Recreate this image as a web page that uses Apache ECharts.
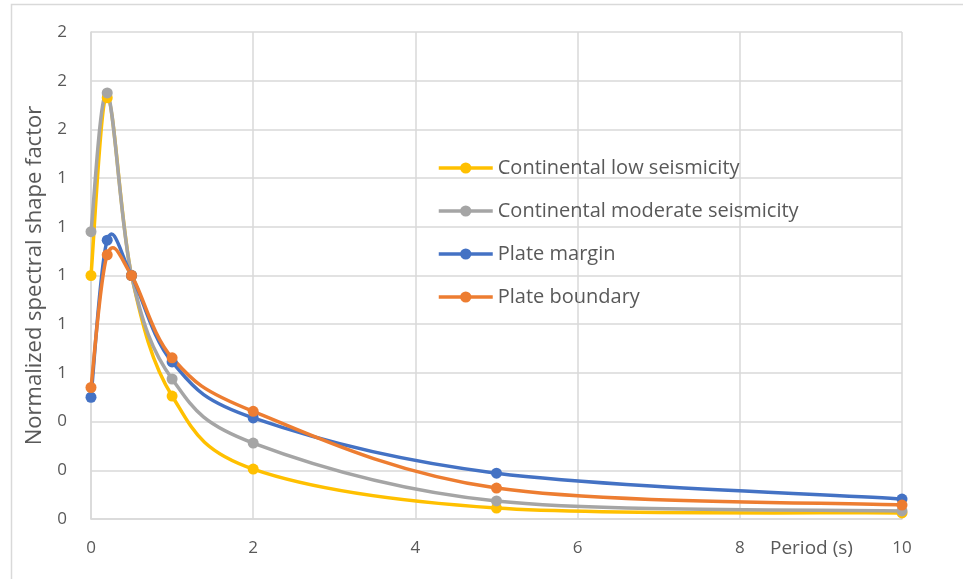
<!DOCTYPE html>
<html>
<head>
<meta charset="utf-8">
<script src="https://cdn.jsdelivr.net/npm/echarts@6/dist/echarts.min.js"></script>
<style>
html,body{margin:0;padding:0;background:#fff;}
#chart{width:963px;height:579px;}
</style>
</head>
<body>
<div id="chart"></div>
<script>
var periods = [0, 0.2, 0.5, 1, 2, 5, 10];
var seriesNames = ['Continental low seismicity', 'Continental moderate seismicity', 'Plate margin', 'Plate boundary'];
var continentalLow = [1.00, 1.73, 1.00, 0.505, 0.205, 0.045, 0.025];
var continentalModerate = [1.18, 1.75, 1.00, 0.575, 0.312, 0.074, 0.033];
var plateMargin = [0.50, 1.145, 1.00, 0.645, 0.415, 0.188, 0.082];
var plateBoundary = [0.54, 1.085, 1.00, 0.662, 0.442, 0.127, 0.057];
var xAxisTitle = 'Period (s)';
var yAxisTitle = 'Normalized spectral shape factor';

var colors = ['#FFC000', '#A5A5A5', '#4472C4', '#ED7D31'];
var allValues = [continentalLow, continentalModerate, plateMargin, plateBoundary];
var FONT = 'Open Sans';
var TXT = '#595959';

function pairs(vals) {
  return periods.map(function (p, i) { return [p, vals[i]]; });
}

// Smooth curve through the data points (Bezier, Excel-style), positioned with the chart's own scales
function smoothRenderer(vals, color) {
  return function (params, api) {
    if (params.dataIndex !== 0) return null;
    var pts = vals.map(function (v, j) { return api.coord([periods[j], v]); });
    var n = pts.length;
    var d = 'M' + pts[0][0] + ' ' + pts[0][1];
    for (var i = 0; i < n - 1; i++) {
      var p0 = pts[i - 1] || pts[i];
      var p1 = pts[i];
      var p2 = pts[i + 1];
      var p3 = pts[i + 2] || pts[i + 1];
      var c1x = p1[0] + (p2[0] - p0[0]) / 6, c1y = p1[1] + (p2[1] - p0[1]) / 6;
      var c2x = p2[0] - (p3[0] - p1[0]) / 6, c2y = p2[1] - (p3[1] - p1[1]) / 6;
      d += ' C' + c1x + ' ' + c1y + ' ' + c2x + ' ' + c2y + ' ' + p2[0] + ' ' + p2[1];
    }
    return {
      type: 'path',
      shape: { pathData: d },
      style: { stroke: color, fill: 'none', lineWidth: 3.5, lineJoin: 'round', lineCap: 'round' }
    };
  };
}

var series = [];
allValues.forEach(function (vals, i) {
  series.push({
    type: 'custom',
    data: pairs(vals),
    encode: { x: 0, y: 1 },
    silent: true,
    clip: false,
    renderItem: smoothRenderer(vals, colors[i])
  });
  series.push({
    name: seriesNames[i],
    type: 'line',
    data: pairs(vals),
    symbol: 'circle',
    symbolSize: 11,
    color: colors[i],
    lineStyle: { width: 3.5, color: colors[i], opacity: 0 },
    itemStyle: { color: colors[i] }
  });
});

var chart = echarts.init(document.getElementById('chart'));
chart.setOption({
  animation: false,
  backgroundColor: '#ffffff',
  textStyle: { fontFamily: FONT },
  grid: { left: 91, right: 61, top: 32, bottom: 60 },
  graphic: [
    {
      type: 'rect', left: 9, top: 2, z: -10,
      shape: { width: 980, height: 600 },
      style: { fill: 'none', stroke: '#d9d9d9', lineWidth: 1.5 }
    },
    {
      type: 'text', left: 770, top: 539,
      style: { text: xAxisTitle, fontFamily: FONT, fontSize: 19, fill: TXT }
    }
  ],
  legend: {
    orient: 'vertical',
    left: 432,
    top: 152,
    itemWidth: 54,
    itemHeight: 14,
    itemGap: 21,
    data: seriesNames,
    lineStyle: { width: 3.5, opacity: 1 },
    textStyle: { fontFamily: FONT, fontSize: 20, color: TXT, lineHeight: 22 }
  },
  xAxis: {
    type: 'value',
    min: 0, max: 10, interval: 2,
    axisLine: { show: true, lineStyle: { color: '#d9d9d9', width: 1.5 } },
    axisTick: { show: false },
    axisLabel: { color: TXT, fontSize: 17, fontFamily: FONT, margin: 21 },
    splitLine: { show: true, lineStyle: { color: '#d9d9d9', width: 1.5 } }
  },
  yAxis: {
    type: 'value',
    min: 0, max: 2, interval: 0.2,
    name: yAxisTitle,
    nameLocation: 'middle',
    nameGap: 45,
    nameTextStyle: { color: TXT, fontSize: 22, fontFamily: FONT },
    axisLine: { show: true, lineStyle: { color: '#d9d9d9', width: 1.5 } },
    axisTick: { show: false },
    axisLabel: {
      color: TXT, fontSize: 17, fontFamily: FONT, margin: 24,
      formatter: function (v) { return String(Math.round(v)); }
    },
    splitLine: { show: true, lineStyle: { color: '#d9d9d9', width: 1.5 } }
  },
  series: series
});
</script>
</body>
</html>
